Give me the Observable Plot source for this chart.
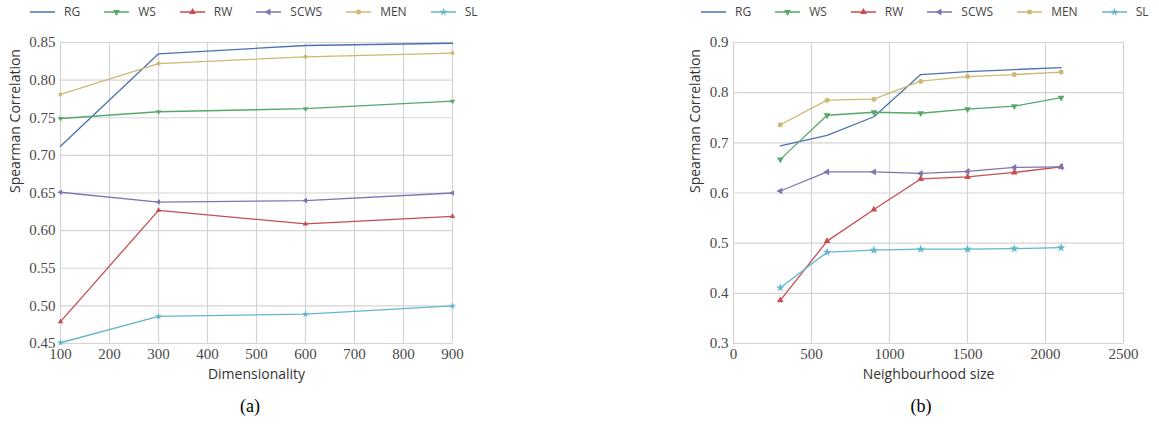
<!DOCTYPE html>
<html><head><meta charset="utf-8">
<script src="https://cdn.jsdelivr.net/npm/d3@7"></script>
<script src="https://cdn.jsdelivr.net/npm/@observablehq/plot@0.6"></script>
<style>
body{margin:0;background:#fff}
#root{position:relative;width:1159px;height:426px;overflow:hidden}
.panel{position:absolute;top:0;height:426px}
.legend{position:absolute;top:4px;display:flex;gap:24px;font-family:'Open Sans';font-size:12px;line-height:16px;color:#444;align-items:center;white-space:nowrap}
.item{display:flex;align-items:center;gap:9px}
.item svg{display:block}
.chart{position:absolute;top:30px;left:0}
.caption{position:absolute;top:396px;font-family:'Liberation Serif','DejaVu Serif',serif;font-size:18px;color:#000;transform:translateX(-50%)}
</style></head>
<body><div id="root"></div>
<script>
const seriesNames = ["RG", "WS", "RW", "SCWS", "MEN", "SL"];
const seriesColors = ["#4c72b0", "#55a868", "#c44e52", "#8172b2", "#ccb974", "#64b5cd"];

const dimensionality = [100, 300, 600, 900];
const rgDim   = [0.712, 0.835, 0.846, 0.849];
const wsDim   = [0.749, 0.758, 0.762, 0.772];
const rwDim   = [0.479, 0.627, 0.609, 0.619];
const scwsDim = [0.651, 0.638, 0.640, 0.650];
const menDim  = [0.781, 0.822, 0.831, 0.836];
const slDim   = [0.451, 0.486, 0.489, 0.500];

const neighbourhood = [300, 600, 900, 1200, 1500, 1800, 2100];
const rgNb   = [0.694, 0.715, 0.752, 0.836, 0.842, 0.846, 0.850];
const wsNb   = [0.667, 0.755, 0.761, 0.759, 0.767, 0.773, 0.790];
const rwNb   = [0.386, 0.504, 0.567, 0.628, 0.632, 0.641, 0.652];
const scwsNb = [0.604, 0.642, 0.642, 0.639, 0.643, 0.651, 0.652];
const menNb  = [0.736, 0.785, 0.787, 0.823, 0.832, 0.836, 0.841];
const slNb   = [0.411, 0.482, 0.486, 0.488, 0.488, 0.489, 0.491];

const xTicksA = [100, 200, 300, 400, 500, 600, 700, 800, 900];
const yTicksA = [0.45, 0.50, 0.55, 0.60, 0.65, 0.70, 0.75, 0.80, 0.85];
const xTicksB = [0, 500, 1000, 1500, 2000, 2500];
const yTicksB = [0.3, 0.4, 0.5, 0.6, 0.7, 0.8, 0.9];

// custom marker shapes
const wrapCtx = (c, f) => ({moveTo:(x,y)=>{const p=f(x,y);c.moveTo(p[0],p[1]);}, lineTo:(x,y)=>{const p=f(x,y);c.lineTo(p[0],p[1]);}, closePath:()=>c.closePath(), arc:(...a)=>c.arc(...a)});
const triDown = {draw(c, s){ d3.symbolTriangle.draw(wrapCtx(c,(x,y)=>[x,-y]), s); }};
const triLeft = {draw(c, s){ d3.symbolTriangle.draw(wrapCtx(c,(x,y)=>[y,x]), s); }};
const seriesSymbols = [null, triDown, d3.symbolTriangle, triLeft, d3.symbolCircle, d3.symbolStar];

function table(xs, arrays){
  const out = [];
  arrays.forEach((arr, i) => arr.forEach((v, j) => out.push({series: seriesNames[i], x: xs[j], y: v})));
  return out;
}
const dataA = table(dimensionality, [rgDim, wsDim, rwDim, scwsDim, menDim, slDim]);
const dataB = table(neighbourhood, [rgNb, wsNb, rwNb, scwsNb, menNb, slNb]);

const gridStyle = {stroke: "#d4d4d4", strokeOpacity: 1, strokeWidth: 1.2};
const serif = "Liberation Serif";
const sans = "Open Sans";

function chart({data, xDomain, yDomain, xTicks, yTicks, yFmt, xLabel, width, ml, mr, r, ylabOff}){
  const marks = [
    Plot.gridX(xTicks, gridStyle),
    Plot.gridY(yTicks, gridStyle),
    Plot.axisX({ticks: xTicks, tickSize: 0, tickPadding: 5, tickFormat: d => String(d), label: null, fontFamily: serif, fontSize: 15, fill: "#4a4a4a"}),
    Plot.axisY({ticks: yTicks, tickSize: 0, tickPadding: 5, tickFormat: yFmt, label: null, fontFamily: serif, fontSize: 15, fill: "#4a4a4a"}),
    Plot.text([xLabel], {frameAnchor: "bottom", dy: 31, lineAnchor: "middle", text: d => d, fontFamily: sans, fontSize: 14, fill: "#333"}),
    Plot.text(["Spearman Correlation"], {frameAnchor: "left", dx: -ylabOff, rotate: -90, lineAnchor: "middle", text: d => d, fontFamily: sans, fontSize: 14, fill: "#333"}),
    Plot.line(data, {x: "x", y: "y", z: "series", stroke: "series", strokeWidth: 1.3})
  ];
  seriesNames.forEach((name, i) => {
    if (!seriesSymbols[i]) return;
    marks.push(Plot.dot(data.filter(d => d.series === name), {x: "x", y: "y", symbol: seriesSymbols[i], fill: seriesColors[i], stroke: "none", r: name === "SL" ? r * 1.1 : r}));
  });
  return Plot.plot({
    width, height: 358, marginLeft: ml, marginRight: mr, marginTop: 12, marginBottom: 45,
    style: {background: "transparent", fontSize: "15px", overflow: "visible"},
    x: {domain: xDomain, axis: null},
    y: {domain: yDomain, axis: null},
    color: {domain: seriesNames, range: seriesColors},
    marks
  });
}

function legend(){
  const div = document.createElement("div");
  div.className = "legend";
  seriesNames.forEach((name, i) => {
    const item = document.createElement("div");
    item.className = "item";
    const svg = d3.create("svg").attr("width", 25).attr("height", 10);
    svg.append("line").attr("x1", 0).attr("x2", 25).attr("y1", 5).attr("y2", 5).attr("stroke", seriesColors[i]).attr("stroke-width", 1.5);
    if (seriesSymbols[i]) svg.append("path").attr("transform", "translate(12.5,5)").attr("d", d3.symbol(seriesSymbols[i], 20)()).attr("fill", seriesColors[i]);
    item.appendChild(svg.node());
    const t = document.createElement("span"); t.textContent = name; item.appendChild(t);
    div.appendChild(item);
  });
  return div;
}

const root = document.getElementById("root");
function panel(left, w, legendLeft, plotNode, captionText, captionX){
  const p = document.createElement("div");
  p.className = "panel"; p.style.left = left + "px"; p.style.width = w + "px";
  const lg = legend(); lg.style.left = legendLeft + "px"; p.appendChild(lg);
  const c = document.createElement("div"); c.className = "chart"; c.appendChild(plotNode); p.appendChild(c);
  const cap = document.createElement("div"); cap.className = "caption"; cap.textContent = captionText; cap.style.left = captionX + "px"; p.appendChild(cap);
  root.appendChild(p);
}

panel(0, 480, 30, chart({data: dataA, xDomain: [100, 900], yDomain: [0.45, 0.85], xTicks: xTicksA, yTicks: yTicksA, yFmt: d3.format(".2f"), xLabel: "Dimensionality", width: 480, ml: 60, mr: 28, r: 2, ylabOff: 45}), "(a)", 250);
panel(680, 479, 21, chart({data: dataB, xDomain: [0, 2500], yDomain: [0.3, 0.9], xTicks: xTicksB, yTicks: yTicksB, yFmt: d3.format(".1f"), xLabel: "Neighbourhood size", width: 479, ml: 53, mr: 36, r: 2.5, ylabOff: 38}), "(b)", 241);
</script></body></html>
